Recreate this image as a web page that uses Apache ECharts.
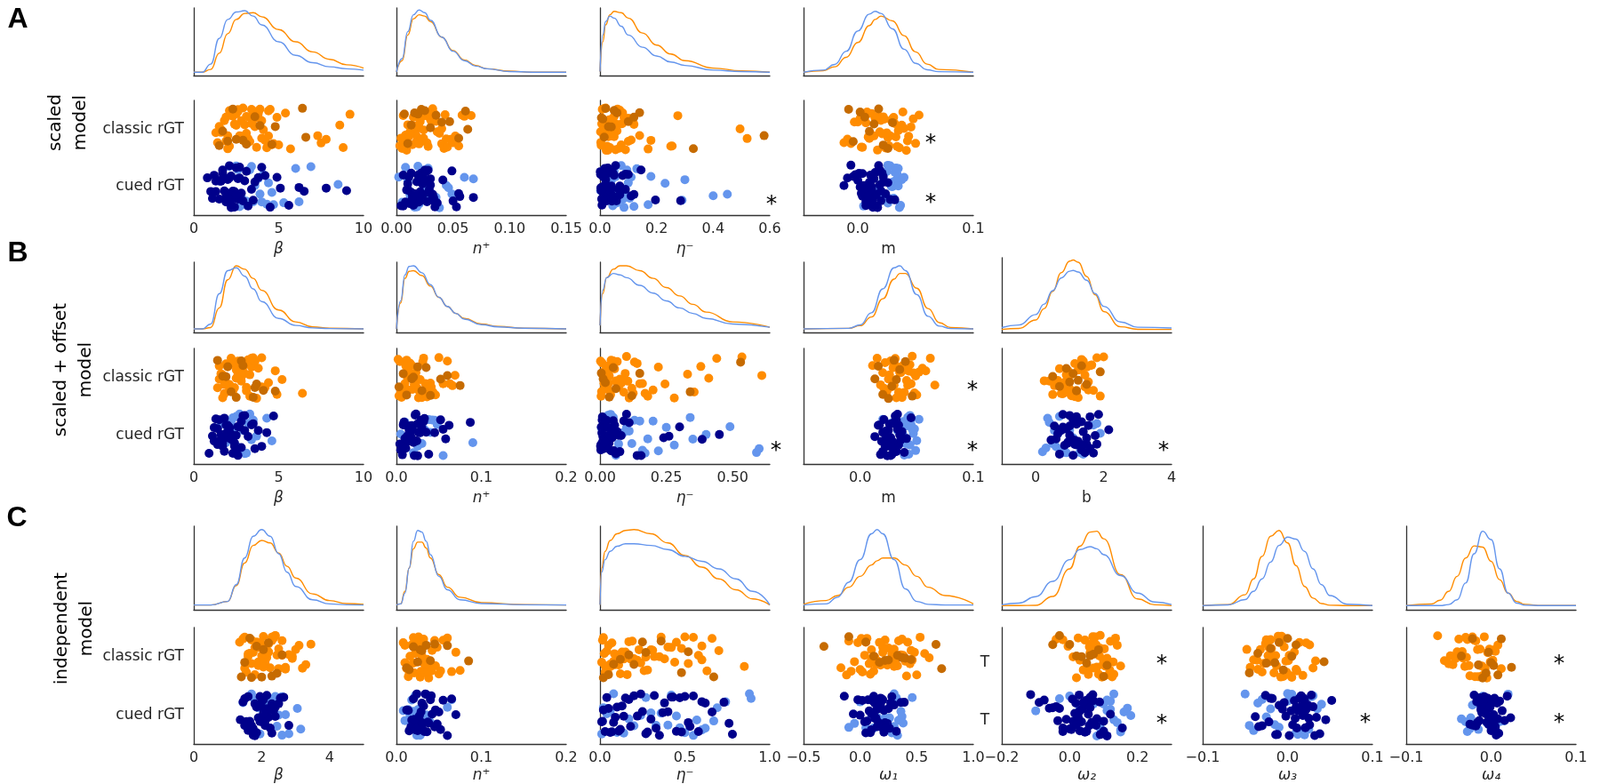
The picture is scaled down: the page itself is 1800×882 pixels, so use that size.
<!DOCTYPE html>
<html><head><meta charset="utf-8">
<script src="https://cdn.jsdelivr.net/npm/echarts@6/dist/echarts.min.js"></script>
<style>html,body{margin:0;padding:0;background:#fff}#c{width:1800px;height:882px}</style>
</head><body><div id="c"></div><script>
const CATS = ['classic rGT', 'cued rGT'];

// ---------- Row A : scaled model ----------
const aBeta_ticks = [0, 5, 10];
const aBeta_dx = [0,0.5,1,1.5,2,2.5,3,3.5,4,5,6,7,8,9,10];
const aBeta_dU = [0.05,0.05,0.17,0.55,0.83,0.94,0.96,0.88,0.75,0.5,0.3,0.19,0.13,0.1,0.08];
const aBeta_dC = [0.05,0.05,0.09,0.33,0.62,0.83,0.92,0.93,0.87,0.68,0.5,0.35,0.24,0.16,0.11];
const aBeta_cL = [1.3,1.5,1.6,1.8,1.9,2.0,2.1,2.2,2.3,2.4,2.5,2.6,2.7,2.8,2.9,3.0,3.1,3.2,3.3,3.4,3.5,3.6,3.8,3.9,4.0,4.1,4.2,4.4,4.5,4.7,4.9,5.0,5.4,5.7,7.3,7.5,7.8,8.6,8.8,9.2,1.4,2.2,2.6,3.3,3.7,4.3,1.6,1.9,2.1,2.4,2.8,3.0,3.4,3.6,4.0,4.4,4.6,2.0,2.5,3.1,3.8];
const aBeta_cD = [1.5,1.7,2.0,2.3,2.5,2.9,3.1,3.6,3.9,4.6,4.8,6.4,6.6];
const aBeta_uN = [0.8,1.0,1.1,1.2,1.3,1.4,1.5,1.6,1.7,1.8,1.9,2.0,2.1,2.2,2.3,2.4,2.5,2.6,2.7,2.8,2.9,3.0,3.2,3.4,3.5,3.8,4.0,4.2,4.5,4.9,5.1,5.6,6.2,6.5,7.8,9.0,1.6,2.0,2.2,2.4,2.6,1.3,1.5,1.7,1.9,2.1,2.3,2.5,2.7,1.8,2.0,2.2,2.4,3.1,3.6];
const aBeta_uL = [1.5,2.1,2.5,2.8,3.0,3.1,3.3,3.5,3.6,3.8,4.1,4.3,4.4,4.7,5.3,6.0,6.2,6.9,8.5,2.3,2.7,3.2,3.9,2.0,2.6,3.4,4.0,4.6];

const aN_ticks = [0, 0.05, 0.10, 0.15];
const aN_dx = [0,0.005,0.01,0.015,0.02,0.025,0.03,0.04,0.05,0.06,0.07,0.08,0.1,0.12,0.15];
const aN_dU = [0.05,0.25,0.65,0.9,0.97,0.93,0.82,0.57,0.36,0.22,0.14,0.1,0.06,0.05,0.05];
const aN_dC = [0.05,0.22,0.6,0.84,0.9,0.88,0.8,0.57,0.37,0.23,0.15,0.1,0.065,0.05,0.05];
const aN_cL = [0.003,0.005,0.006,0.008,0.01,0.011,0.012,0.014,0.015,0.016,0.018,0.019,0.02,0.021,0.022,0.024,0.025,0.026,0.028,0.029,0.03,0.032,0.034,0.036,0.038,0.04,0.042,0.043,0.045,0.048,0.05,0.052,0.055,0.058,0.06,0.066,0.009,0.017,0.027,0.004,0.007,0.01,0.013,0.016,0.02,0.023,0.027,0.031,0.035,0.04,0.044,0.012,0.024];
const aN_cD = [0.007,0.01,0.013,0.016,0.019,0.022,0.025,0.03,0.035,0.04,0.047,0.055,0.061,0.063];
const aN_uN = [0.004,0.006,0.008,0.009,0.01,0.011,0.012,0.013,0.014,0.015,0.016,0.017,0.018,0.019,0.02,0.021,0.022,0.023,0.024,0.025,0.026,0.027,0.028,0.029,0.03,0.031,0.032,0.034,0.036,0.041,0.049,0.05,0.053,0.055,0.056,0.068,0.013,0.02,0.024,0.006,0.01,0.014,0.018,0.022,0.026,0.03,0.016,0.019,0.023,0.028,0.033];
const aN_uL = [0.002,0.005,0.008,0.012,0.016,0.018,0.02,0.022,0.025,0.027,0.03,0.035,0.038,0.044,0.046,0.049,0.06,0.068,0.015,0.028,0.01,0.019,0.024,0.033];

const aEta_ticks = [0, 0.2, 0.4, 0.6];
const aEta_dx = [0,0.01,0.02,0.035,0.05,0.075,0.1,0.15,0.2,0.25,0.3,0.4,0.5,0.6];
const aEta_dU = [0.06,0.6,0.8,0.88,0.85,0.73,0.6,0.42,0.29,0.2,0.15,0.08,0.06,0.05];
const aEta_dC = [0.06,0.5,0.75,0.9,0.95,0.93,0.85,0.63,0.45,0.32,0.22,0.11,0.07,0.05];
const aEta_cL = [0.002,0.004,0.006,0.008,0.01,0.012,0.015,0.018,0.02,0.022,0.025,0.028,0.03,0.033,0.035,0.04,0.045,0.05,0.055,0.06,0.065,0.07,0.075,0.08,0.085,0.09,0.1,0.11,0.12,0.14,0.17,0.18,0.25,0.255,0.275,0.495,0.52,0.016,0.038,0.062,0.003,0.007,0.012,0.02,0.027,0.036,0.045,0.055,0.068,0.078,0.09,0.1,0.015,0.05];
const aEta_cD = [0.005,0.01,0.015,0.02,0.03,0.04,0.05,0.06,0.1,0.12,0.14,0.33,0.58];
const aEta_uN = [0.001,0.003,0.005,0.007,0.009,0.011,0.013,0.015,0.017,0.02,0.022,0.025,0.028,0.03,0.033,0.036,0.04,0.045,0.05,0.055,0.06,0.065,0.07,0.08,0.09,0.1,0.11,0.12,0.145,0.196,0.285,0.008,0.018,0.026,0.042,0.002,0.006,0.01,0.014,0.019,0.024,0.03,0.038,0.047,0.058,0.07,0.09,0.004,0.012];
const aEta_uL = [0.002,0.01,0.02,0.03,0.04,0.05,0.06,0.07,0.075,0.08,0.085,0.09,0.1,0.11,0.12,0.13,0.17,0.18,0.23,0.29,0.3,0.4,0.45,0.035,0.065,0.015,0.045,0.055,0.095,0.105];

const aM_ticks = [0, 0.1];
const aM_dx = [-0.047,-0.03,-0.02,-0.01,0,0.01,0.015,0.02,0.03,0.04,0.05,0.06,0.07,0.1];
const aM_dU = [0.05,0.08,0.165,0.36,0.66,0.91,0.95,0.92,0.69,0.39,0.18,0.086,0.057,0.05];
const aM_dC = [0.05,0.073,0.13,0.27,0.49,0.74,0.83,0.88,0.81,0.59,0.35,0.17,0.09,0.05];
const aM_cL = [-0.012,-0.009,-0.006,-0.003,0,0.002,0.004,0.006,0.008,0.01,0.012,0.014,0.016,0.018,0.02,0.022,0.024,0.026,0.028,0.03,0.032,0.034,0.036,0.038,0.04,0.042,0.044,0.046,0.048,0.05,0.053,0.009,0.017,0.025,0.033,0.003,0.011,0.015,0.019,0.023,0.027,0.031,0.035,0.039,0.043,0.021,0.029,0.037,0.007];
const aM_cD = [-0.008,-0.004,0.002,0.006,0.01,0.014,0.018,0.022,0.026,0.03];
const aM_uN = [-0.012,-0.009,-0.006,-0.004,-0.002,0,0.001,0.002,0.003,0.004,0.005,0.006,0.007,0.008,0.009,0.01,0.011,0.012,0.013,0.014,0.015,0.016,0.017,0.018,0.019,0.02,0.021,0.022,0.024,0.026,0.028,0.032,0.006,0.012,0.001,0.004,0.007,0.01,0.013,0.016,0.019,0.022,0.009,0.014,0.017,0.02];
const aM_uL = [0.005,0.015,0.02,0.022,0.024,0.025,0.026,0.027,0.028,0.029,0.03,0.031,0.032,0.033,0.034,0.035,0.036,0.037,0.038,0.04,0.018,0.03,0.023,0.026,0.029,0.032,0.035];

// ---------- Row B : scaled + offset model ----------
const bBeta_ticks = [0, 5, 10];
const bBeta_dx = [0,0.5,1,1.5,2,2.5,3,3.5,4,5,6,7,8,10];
const bBeta_dU = [0.05,0.05,0.12,0.55,0.88,0.92,0.8,0.62,0.44,0.2,0.1,0.065,0.055,0.05];
const bBeta_dC = [0.05,0.05,0.07,0.35,0.75,0.95,0.9,0.77,0.6,0.32,0.15,0.08,0.06,0.05];
const bBeta_cL = [1.4,1.5,1.6,1.7,1.8,1.9,2.0,2.1,2.2,2.3,2.4,2.5,2.6,2.7,2.8,2.9,3.0,3.1,3.2,3.3,3.4,3.5,3.6,3.7,3.8,4.0,4.2,4.4,4.8,4.9,5.2,6.4,1.8,2.2,2.6,3.0,1.5,1.7,2.0,2.3,2.5,2.8,3.1,3.3,3.6,2.1,2.4,2.7,3.4,4.0];
const bBeta_cD = [1.4,1.7,1.9,2.0,2.2,2.5,2.8,2.9,3.5,3.6,3.7,4.1,4.8];
const bBeta_uN = [0.9,1.1,1.2,1.3,1.4,1.5,1.6,1.7,1.8,1.9,2.0,2.1,2.2,2.3,2.4,2.5,2.6,2.7,2.8,2.9,3.0,3.2,3.4,3.5,3.6,3.8,4.0,4.3,4.7,1.5,2.0,2.3,1.2,1.4,1.6,1.8,2.0,2.2,2.4,2.6,2.8,3.0,1.7,1.9,2.1,2.5];
const bBeta_uL = [1.6,1.9,2.2,2.4,2.5,2.6,2.7,2.8,2.9,3.0,3.1,3.3,3.4,3.5,3.7,4.3,4.6,2.0,2.3,2.6,3.2];

const bN_ticks = [0, 0.1, 0.2];
const bN_dx = [0,0.005,0.01,0.015,0.02,0.03,0.04,0.05,0.06,0.07,0.08,0.1,0.12,0.15,0.2];
const bN_dU = [0.05,0.45,0.82,0.94,0.95,0.85,0.68,0.5,0.37,0.27,0.19,0.11,0.08,0.06,0.05];
const bN_dC = [0.05,0.42,0.77,0.87,0.88,0.81,0.66,0.5,0.37,0.27,0.2,0.12,0.085,0.06,0.05];
const bN_cL = [0.002,0.004,0.006,0.008,0.01,0.012,0.014,0.016,0.018,0.02,0.022,0.024,0.026,0.028,0.03,0.032,0.034,0.036,0.038,0.04,0.043,0.046,0.05,0.055,0.06,0.063,0.066,0.069,0.005,0.015,0.025,0.003,0.007,0.011,0.015,0.019,0.023,0.027,0.031,0.035,0.009,0.013,0.021,0.029,0.041];
const bN_cD = [0.003,0.008,0.012,0.018,0.02,0.025,0.03,0.035,0.04,0.052,0.06,0.075];
const bN_uN = [0.004,0.006,0.008,0.01,0.012,0.014,0.016,0.018,0.02,0.022,0.024,0.026,0.028,0.03,0.032,0.035,0.038,0.045,0.052,0.055,0.058,0.062,0.087,0.01,0.015,0.02,0.025,0.005,0.009,0.013,0.017,0.021,0.025,0.029,0.007,0.011,0.015,0.019,0.023,0.033];
const bN_uL = [0.005,0.01,0.02,0.03,0.034,0.038,0.042,0.045,0.048,0.055,0.09,0.025,0.032,0.015,0.028,0.04];

const bEta_ticks = [0, 0.25, 0.5];
const bEta_dx = [0,0.01,0.025,0.05,0.075,0.1,0.15,0.2,0.25,0.3,0.35,0.4,0.5,0.64];
const bEta_dU = [0.1,0.6,0.78,0.84,0.82,0.78,0.67,0.56,0.45,0.35,0.27,0.2,0.12,0.075];
const bEta_dC = [0.1,0.55,0.78,0.9,0.95,0.95,0.88,0.77,0.64,0.52,0.4,0.29,0.15,0.075];
const bEta_cL = [0.002,0.006,0.01,0.015,0.02,0.025,0.03,0.035,0.04,0.045,0.05,0.06,0.07,0.08,0.09,0.1,0.11,0.12,0.13,0.14,0.15,0.16,0.17,0.18,0.2,0.22,0.245,0.28,0.33,0.355,0.38,0.41,0.44,0.535,0.61,0.055,0.095,0.004,0.008,0.013,0.018,0.023,0.028,0.033,0.042,0.05,0.065,0.075,0.085,0.105,0.125];
const bEta_cD = [0.005,0.012,0.02,0.035,0.05,0.06,0.12,0.15,0.34,0.53];
const bEta_uN = [0.002,0.005,0.008,0.011,0.014,0.017,0.02,0.023,0.026,0.03,0.034,0.038,0.042,0.046,0.05,0.055,0.06,0.065,0.07,0.08,0.09,0.1,0.11,0.14,0.155,0.24,0.26,0.3,0.385,0.45,0.01,0.03,0.004,0.007,0.012,0.016,0.022,0.028,0.036,0.044,0.052,0.062,0.075,0.003,0.009,0.019];
const bEta_uL = [0.005,0.02,0.04,0.06,0.08,0.1,0.12,0.13,0.15,0.17,0.18,0.2,0.22,0.28,0.34,0.35,0.4,0.49,0.59,0.6,0.09,0.25,0.03,0.05,0.07,0.11,0.16];

const bM_ticks = [0, 0.1];
const bM_dx = [-0.05,-0.01,0,0.01,0.02,0.03,0.035,0.04,0.05,0.06,0.07,0.08,0.1];
const bM_dU = [0.05,0.059,0.108,0.28,0.62,0.92,0.95,0.88,0.54,0.23,0.09,0.056,0.05];
const bM_dC = [0.05,0.058,0.096,0.22,0.48,0.76,0.84,0.84,0.63,0.34,0.14,0.07,0.05];
const bM_cL = [0.011,0.015,0.018,0.02,0.022,0.024,0.026,0.028,0.03,0.032,0.034,0.036,0.038,0.04,0.042,0.044,0.046,0.048,0.05,0.052,0.055,0.058,0.062,0.066,0.027,0.035,0.043,0.021,0.025,0.029,0.031,0.033,0.037,0.039,0.041,0.045,0.049,0.023,0.035,0.047,0.03];
const bM_cD = [0.013,0.016,0.02,0.025,0.028,0.03,0.032,0.035,0.04,0.046];
const bM_uN = [0.013,0.016,0.018,0.019,0.02,0.021,0.022,0.023,0.024,0.025,0.026,0.027,0.028,0.029,0.03,0.031,0.032,0.033,0.034,0.035,0.037,0.039,0.041,0.045,0.022,0.027,0.032,0.017,0.02,0.023,0.026,0.029,0.031,0.034,0.036,0.024,0.028,0.03,0.033];
const bM_uL = [0.02,0.028,0.033,0.036,0.038,0.04,0.041,0.042,0.043,0.044,0.045,0.046,0.047,0.048,0.05,0.052,0.039,0.044,0.038,0.042,0.045,0.049];

const bB_ticks = [0, 2, 4];
const bB_dx = [-1,-0.5,0,0.25,0.5,0.75,1,1.1,1.25,1.5,1.75,2,2.5,3,4];
const bB_dU = [0.065,0.1,0.24,0.38,0.56,0.73,0.82,0.83,0.81,0.7,0.52,0.35,0.14,0.07,0.06];
const bB_dC = [0.04,0.054,0.166,0.32,0.55,0.8,0.955,0.97,0.94,0.75,0.505,0.28,0.076,0.042,0.04];
const bB_cL = [0.25,0.4,0.5,0.6,0.7,0.75,0.8,0.85,0.9,0.95,1.0,1.05,1.1,1.15,1.2,1.25,1.3,1.35,1.4,1.45,1.5,1.55,1.6,1.7,1.8,1.9,2.0,0.9,1.1,1.3,0.55,0.65,0.85,0.95,1.05,1.15,1.25,1.35,1.45,1.55,1.65,1.0,1.2,1.4];
const bB_cD = [0.5,0.7,0.9,1.0,1.1,1.2,1.25,1.35,1.5,1.9];
const bB_uN = [0.45,0.55,0.65,0.7,0.75,0.8,0.85,0.9,0.95,1.0,1.05,1.1,1.15,1.2,1.25,1.3,1.35,1.4,1.45,1.5,1.55,1.6,1.7,1.8,1.85,2.15,1.0,1.2,0.6,0.8,0.9,1.0,1.1,1.2,1.3,1.4,1.5,1.6,0.95,1.15,1.35,1.75];
const bB_uL = [0.2,0.3,0.4,0.5,0.6,0.7,0.8,0.9,1.0,1.1,1.3,1.5,1.6,1.7,1.8,1.9,0.65,1.2,0.35,0.55,0.75,1.4];

// ---------- Row C : independent model ----------
const cBeta_ticks = [0, 2, 4];
const cBeta_dx = [0,0.5,1,1.25,1.5,1.75,2,2.25,2.5,2.75,3,3.5,4,4.5,5];
const cBeta_dU = [0.057,0.057,0.1,0.3,0.62,0.88,0.96,0.88,0.67,0.45,0.28,0.12,0.07,0.06,0.057];
const cBeta_dC = [0.057,0.057,0.1,0.29,0.56,0.77,0.83,0.8,0.68,0.52,0.38,0.19,0.11,0.075,0.064];
const cBeta_cL = [1.35,1.45,1.5,1.55,1.6,1.65,1.7,1.75,1.8,1.85,1.9,1.95,2.0,2.05,2.1,2.15,2.2,2.25,2.3,2.35,2.4,2.45,2.5,2.6,2.7,2.8,2.9,3.0,3.1,3.2,3.3,3.45,1.9,2.2,2.6,1.5,1.6,1.7,1.8,1.9,2.0,2.1,2.2,2.3,2.4,2.5,2.7,2.9,2.05];
const cBeta_cD = [1.4,1.5,1.65,1.7,1.85,2.0,2.05,2.2,2.3,2.45,2.6];
const cBeta_uN = [1.37,1.45,1.5,1.55,1.6,1.65,1.7,1.75,1.8,1.85,1.9,1.95,2.0,2.05,2.1,2.15,2.2,2.25,2.3,2.35,2.4,2.5,2.55,2.65,2.8,1.65,1.8,1.95,2.1,1.5,1.6,1.7,1.8,1.9,2.0,2.1,2.2,2.3,2.4,1.75,1.85,2.05,2.15];
const cBeta_uL = [1.45,1.6,1.8,1.9,2.0,2.1,2.2,2.3,2.4,2.5,2.6,2.7,2.8,3.05,3.15,2.15,1.7,1.95,2.25,2.45,2.6];

const cN_ticks = [0, 0.1, 0.2];
const cN_dx = [0,0.005,0.01,0.015,0.02,0.025,0.03,0.035,0.04,0.05,0.06,0.075,0.1,0.15,0.2];
const cN_dU = [0.057,0.07,0.2,0.5,0.82,0.95,0.93,0.82,0.66,0.4,0.24,0.12,0.075,0.06,0.057];
const cN_dC = [0.057,0.07,0.22,0.5,0.73,0.81,0.81,0.74,0.62,0.42,0.27,0.15,0.085,0.062,0.057];
const cN_cL = [0.008,0.01,0.012,0.014,0.016,0.018,0.02,0.022,0.024,0.026,0.028,0.03,0.032,0.034,0.036,0.038,0.04,0.042,0.045,0.048,0.05,0.055,0.06,0.065,0.07,0.075,0.02,0.03,0.04,0.01,0.013,0.017,0.021,0.025,0.029,0.033,0.037,0.041,0.046,0.015,0.027,0.035,0.052];
const cN_cD = [0.012,0.015,0.02,0.025,0.028,0.03,0.035,0.04,0.045,0.06,0.085];
const cN_uN = [0.012,0.015,0.018,0.02,0.022,0.024,0.026,0.028,0.03,0.032,0.034,0.036,0.038,0.04,0.042,0.045,0.048,0.05,0.055,0.06,0.065,0.07,0.025,0.03,0.035,0.014,0.017,0.019,0.021,0.023,0.027,0.029,0.031,0.033,0.037,0.041,0.046,0.052];
const cN_uL = [0.008,0.01,0.014,0.018,0.022,0.026,0.03,0.035,0.045,0.06,0.065,0.02,0.016,0.024,0.028,0.04];

const cEta_ticks = [0, 0.5, 1.0];
const cEta_dx = [0,0.01,0.03,0.06,0.1,0.15,0.2,0.3,0.4,0.5,0.6,0.7,0.8,0.9,1.0];
const cEta_dU = [0.06,0.45,0.6,0.7,0.76,0.79,0.79,0.77,0.72,0.64,0.58,0.49,0.37,0.22,0.06];
const cEta_dC = [0.06,0.5,0.7,0.83,0.91,0.95,0.96,0.91,0.8,0.65,0.51,0.37,0.24,0.13,0.057];
const cEta_cL = [0.01,0.02,0.03,0.04,0.05,0.06,0.07,0.08,0.09,0.1,0.12,0.14,0.16,0.18,0.2,0.22,0.24,0.26,0.28,0.3,0.32,0.35,0.38,0.4,0.42,0.45,0.48,0.5,0.52,0.55,0.58,0.6,0.63,0.66,0.7,0.85,0.03,0.11,0.17,0.015,0.025,0.045,0.065,0.085,0.13,0.15,0.19,0.23,0.27,0.31,0.36,0.44,0.6];
const cEta_cD = [0.02,0.05,0.08,0.12,0.17,0.2,0.25,0.27,0.36,0.48,0.52,0.67];
const cEta_uN = [0.01,0.02,0.03,0.05,0.07,0.09,0.11,0.13,0.15,0.18,0.2,0.22,0.25,0.28,0.3,0.33,0.35,0.38,0.4,0.43,0.45,0.48,0.5,0.53,0.55,0.6,0.62,0.66,0.73,0.76,0.78,0.08,0.14,0.015,0.04,0.06,0.1,0.12,0.17,0.24,0.27,0.32,0.37,0.42,0.47,0.52,0.58];
const cEta_uL = [0.01,0.04,0.06,0.1,0.14,0.17,0.2,0.24,0.27,0.3,0.36,0.4,0.42,0.47,0.5,0.55,0.6,0.62,0.67,0.69,0.74,0.88,0.89,0.02,0.08,0.33,0.45,0.57];

const cW1_ticks = [-0.5, 0, 0.5, 1.0];
const cW1_dx = [-0.5,-0.3,-0.2,-0.1,0,0.1,0.15,0.2,0.3,0.4,0.5,0.6,0.75,1.0];
const cW1_dU = [0.057,0.07,0.15,0.33,0.6,0.91,0.96,0.91,0.6,0.25,0.1,0.065,0.057,0.057];
const cW1_dC = [0.066,0.11,0.17,0.27,0.4,0.536,0.586,0.62,0.62,0.536,0.4,0.27,0.17,0.07];
const cW1_cL = [-0.17,-0.12,-0.08,-0.05,-0.02,0,0.02,0.04,0.06,0.08,0.1,0.12,0.14,0.16,0.18,0.2,0.22,0.24,0.26,0.28,0.3,0.32,0.34,0.36,0.38,0.4,0.42,0.44,0.46,0.5,0.53,0.57,0.61,0.1,0.2,0.3,-0.1,0.01,0.05,0.09,0.13,0.17,0.21,0.25,0.29,0.33,0.37,0.41,0.45,0.48];
const cW1_cD = [-0.32,-0.1,0.05,0.12,0.17,0.22,0.25,0.33,0.37,0.4,0.45,0.67,0.72];
const cW1_uN = [-0.14,-0.06,-0.02,0,0.02,0.04,0.06,0.08,0.1,0.12,0.13,0.14,0.15,0.16,0.17,0.18,0.19,0.2,0.21,0.22,0.24,0.26,0.28,0.3,0.32,0.36,0.39,0.1,0.16,0.2,0.05,0.07,0.09,0.11,0.13,0.15,0.17,0.19,0.21,0.23,0.25,0.12,0.18,0.27];
const cW1_uL = [-0.1,-0.05,0,0.05,0.1,0.15,0.2,0.25,0.28,0.3,0.32,0.34,0.36,0.37,0.38,0.46,0.22,0.3,0.12,0.18,0.26,0.33];

const cW2_ticks = [-0.2, 0, 0.2];
const cW2_dx = [-0.2,-0.15,-0.1,-0.05,0,0.03,0.06,0.08,0.1,0.15,0.2,0.25,0.3];
const cW2_dU = [0.06,0.08,0.157,0.34,0.6,0.72,0.755,0.73,0.66,0.41,0.2,0.093,0.062];
const cW2_dC = [0.05,0.05,0.053,0.16,0.49,0.76,0.93,0.94,0.85,0.42,0.13,0.06,0.05];
const cW2_cL = [-0.04,-0.02,-0.005,0.01,0.02,0.03,0.04,0.05,0.055,0.06,0.065,0.07,0.075,0.08,0.085,0.09,0.095,0.1,0.105,0.11,0.115,0.12,0.125,0.13,0.14,0.15,0.07,0.09,0.045,0.058,0.068,0.078,0.088,0.098,0.108,0.118,0.128,0.062,0.082,0.102,0.135,0.025];
const cW2_cD = [-0.05,-0.03,0.0,0.02,0.035,0.05,0.06,0.07,0.085,0.1,0.11];
const cW2_uN = [-0.115,-0.09,-0.075,-0.06,-0.05,-0.04,-0.03,-0.02,-0.01,0,0.005,0.01,0.015,0.02,0.025,0.03,0.035,0.04,0.045,0.05,0.055,0.06,0.065,0.07,0.08,0.09,0.1,0.11,0.12,0.155,0.03,0.05,0.008,0.018,0.028,0.038,0.048,0.058,0.068,0.078,0.088,0.1,0.04,0.06,-0.035,-0.02];
const cW2_uL = [-0.1,-0.03,0.0,0.03,0.05,0.07,0.09,0.1,0.11,0.12,0.13,0.14,0.15,0.16,0.17,0.18,0.08,0.12,0.09,0.11,0.13,0.15,0.06];

const cW3_ticks = [-0.1, 0, 0.1];
const cW3_dx = [-0.1,-0.07,-0.05,-0.04,-0.03,-0.02,-0.01,0,0.01,0.02,0.03,0.04,0.05,0.07,0.1];
const cW3_dU = [0.05,0.058,0.123,0.22,0.37,0.57,0.77,0.87,0.845,0.7,0.49,0.3,0.17,0.067,0.05];
const cW3_dC = [0.05,0.061,0.18,0.37,0.64,0.88,0.95,0.8,0.53,0.28,0.14,0.075,0.055,0.05,0.05];
const cW3_cL = [-0.048,-0.044,-0.04,-0.036,-0.032,-0.028,-0.025,-0.022,-0.019,-0.016,-0.013,-0.01,-0.007,-0.004,-0.001,0.002,0.005,0.008,0.011,0.014,0.018,0.022,0.026,0.03,0.033,-0.02,-0.005,-0.035,-0.03,-0.026,-0.023,-0.02,-0.017,-0.014,-0.011,-0.008,-0.005,-0.002,0.001,0.004,0.01];
const cW3_cD = [-0.045,-0.035,-0.025,-0.02,-0.015,-0.01,-0.005,0,0.005,0.01,0.043];
const cW3_uN = [-0.038,-0.034,-0.03,-0.026,-0.022,-0.018,-0.014,-0.01,-0.006,-0.002,0.002,0.006,0.008,0.01,0.012,0.014,0.016,0.018,0.02,0.022,0.024,0.026,0.028,0.03,0.034,0.038,0.045,0.052,0.015,0.02,-0.02,-0.012,-0.004,0.004,0.009,0.011,0.013,0.015,0.017,0.019,0.021,0.023,0.025,0.032];
const cW3_uL = [-0.05,-0.045,-0.04,-0.03,-0.02,-0.01,0,0.005,0.01,0.015,0.02,0.025,0.03,0.035,0.04,-0.025,-0.035,-0.015,0.0,0.012,0.028];

const cW4_ticks = [-0.1, 0, 0.1];
const cW4_dx = [-0.1,-0.07,-0.06,-0.05,-0.04,-0.03,-0.02,-0.01,0,0.01,0.02,0.03,0.04,0.06,0.1];
const cW4_dU = [0.05,0.05,0.05,0.062,0.12,0.32,0.67,0.94,0.84,0.49,0.2,0.08,0.055,0.05,0.05];
const cW4_dC = [0.05,0.069,0.115,0.22,0.4,0.62,0.765,0.75,0.58,0.36,0.2,0.1,0.065,0.05,0.05];
const cW4_cL = [-0.063,-0.055,-0.05,-0.045,-0.04,-0.037,-0.034,-0.031,-0.028,-0.025,-0.022,-0.019,-0.016,-0.013,-0.01,-0.007,-0.004,-0.001,0.002,0.005,0.008,0.012,-0.03,-0.02,-0.015,-0.048,-0.042,-0.038,-0.033,-0.029,-0.026,-0.023,-0.018,-0.014,-0.011,-0.008,-0.005,-0.002,0.004];
const cW4_cD = [-0.035,-0.022,-0.015,-0.01,-0.006,-0.003,0,0.003,0.008,0.012,0.024];
const cW4_uN = [-0.025,-0.022,-0.02,-0.018,-0.016,-0.014,-0.012,-0.01,-0.008,-0.006,-0.004,-0.002,0,0.002,0.004,0.006,0.008,0.01,0.013,0.016,0.019,0.023,-0.012,-0.005,0.003,-0.017,-0.013,-0.009,-0.007,-0.003,-0.001,0.001,0.003,0.005,0.007,0.009,-0.011,-0.006,0.0];
const cW4_uL = [-0.035,-0.03,-0.028,-0.025,-0.02,-0.015,-0.01,-0.005,0.0,0.005,0.01,0.015,0.02,-0.022,-0.024,-0.018,-0.012,-0.008];

// ---------- layout ----------
const COLORS = { cL: '#FF8C00', cD: '#C66B00', uN: '#00008B', uL: '#6495ED', dC: '#FF8C00', dU: '#6495ED' };
const TXT = '#262626', AX = '#333333', FONT = 'DejaVu Sans';
const COL_LEFT = [218, 446, 675, 904, 1127, 1353, 1582];
const COL_W = 191;
const ROWS = [
  { dTop: 9, dH: 76, sTop: 113, sH: 129, gap: 30 },
  { dTop: 295, dH: 79, sTop: 392, sH: 130, gap: 30 },
  { dTop: 592, dH: 94, sTop: 706, sH: 131, gap: 27 }
];

function P(row, col, name, italic, min, max, ticks, dec, pre, extra) {
  return Object.assign({ row, col, name, italic, min, max, ticks, dec, pre }, extra || {});
}
const PANELS = [
  P(0,0,'β',true,0,10,aBeta_ticks,0,{dx:aBeta_dx,dC:aBeta_dC,dU:aBeta_dU,cL:aBeta_cL,cD:aBeta_cD,uN:aBeta_uN,uL:aBeta_uL}),
  P(0,1,'n⁺',true,0,0.15,aN_ticks,2,{dx:aN_dx,dC:aN_dC,dU:aN_dU,cL:aN_cL,cD:aN_cD,uN:aN_uN,uL:aN_uL}),
  P(0,2,'η⁻',true,0,0.6,aEta_ticks,1,{dx:aEta_dx,dC:aEta_dC,dU:aEta_dU,cL:aEta_cL,cD:aEta_cD,uN:aEta_uN,uL:aEta_uL}),
  P(0,3,'m',false,-0.047,0.1,aM_ticks,1,{dx:aM_dx,dC:aM_dC,dU:aM_dU,cL:aM_cL,cD:aM_cD,uN:aM_uN,uL:aM_uL}),
  P(1,0,'β',true,0,10,bBeta_ticks,0,{dx:bBeta_dx,dC:bBeta_dC,dU:bBeta_dU,cL:bBeta_cL,cD:bBeta_cD,uN:bBeta_uN,uL:bBeta_uL}),
  P(1,1,'n⁺',true,0,0.2,bN_ticks,1,{dx:bN_dx,dC:bN_dC,dU:bN_dU,cL:bN_cL,cD:bN_cD,uN:bN_uN,uL:bN_uL}),
  P(1,2,'η⁻',true,0,0.64,bEta_ticks,2,{dx:bEta_dx,dC:bEta_dC,dU:bEta_dU,cL:bEta_cL,cD:bEta_cD,uN:bEta_uN,uL:bEta_uL}),
  P(1,3,'m',false,-0.05,0.1,bM_ticks,1,{dx:bM_dx,dC:bM_dC,dU:bM_dU,cL:bM_cL,cD:bM_cD,uN:bM_uN,uL:bM_uL}),
  P(1,4,'b',false,-1,4,bB_ticks,0,{dx:bB_dx,dC:bB_dC,dU:bB_dU,cL:bB_cL,cD:bB_cD,uN:bB_uN,uL:bB_uL},{dTop:290}),
  P(2,0,'β',true,0,5,cBeta_ticks,0,{dx:cBeta_dx,dC:cBeta_dC,dU:cBeta_dU,cL:cBeta_cL,cD:cBeta_cD,uN:cBeta_uN,uL:cBeta_uL}),
  P(2,1,'n⁺',true,0,0.2,cN_ticks,1,{dx:cN_dx,dC:cN_dC,dU:cN_dU,cL:cN_cL,cD:cN_cD,uN:cN_uN,uL:cN_uL}),
  P(2,2,'η⁻',true,0,1,cEta_ticks,1,{dx:cEta_dx,dC:cEta_dC,dU:cEta_dU,cL:cEta_cL,cD:cEta_cD,uN:cEta_uN,uL:cEta_uL}),
  P(2,3,'ω₁',true,-0.5,1,cW1_ticks,1,{dx:cW1_dx,dC:cW1_dC,dU:cW1_dU,cL:cW1_cL,cD:cW1_cD,uN:cW1_uN,uL:cW1_uL}),
  P(2,4,'ω₂',true,-0.2,0.3,cW2_ticks,1,{dx:cW2_dx,dC:cW2_dC,dU:cW2_dU,cL:cW2_cL,cD:cW2_cD,uN:cW2_uN,uL:cW2_uL}),
  P(2,5,'ω₃',true,-0.1,0.1,cW3_ticks,1,{dx:cW3_dx,dC:cW3_dC,dU:cW3_dU,cL:cW3_cL,cD:cW3_cD,uN:cW3_uN,uL:cW3_uL}),
  P(2,6,'ω₄',true,-0.1,0.1,cW4_ticks,1,{dx:cW4_dx,dC:cW4_dC,dU:cW4_dU,cL:cW4_cL,cD:cW4_cD,uN:cW4_uN,uL:cW4_uL})
];

function fmt(v, dec) {
  const s = Math.abs(v).toFixed(dec);
  return (v < -1e-12 ? '\u2212' : '') + s;
}

const grid = [], xAxis = [], yAxis = [], series = [];
PANELS.forEach(p => {
  const R = ROWS[p.row];
  const left = COL_LEFT[p.col];
  const dTop = p.dTop != null ? p.dTop : R.dTop;
  const dBottom = R.dTop + R.dH;
  const gD = grid.length;
  grid.push({ left: left, top: dTop, width: COL_W, height: dBottom - dTop });
  xAxis.push({ gridIndex: gD, type: 'value', min: p.min, max: p.max,
    axisLine: { show: true, onZero: false, lineStyle: { color: AX, width: 1.3 } },
    axisTick: { show: false }, axisLabel: { show: false }, splitLine: { show: false } });
  yAxis.push({ gridIndex: gD, type: 'value', min: 0, max: 1,
    axisLine: { show: true, onZero: false, lineStyle: { color: AX, width: 1.3 } },
    axisTick: { show: false }, axisLabel: { show: false }, splitLine: { show: false } });
  [['dC', COLORS.dC], ['dU', COLORS.dU]].forEach(([k, c]) => {
    series.push({ type: 'line', xAxisIndex: gD, yAxisIndex: gD, smooth: 0.5, smoothMonotone: 'x',
      showSymbol: false, symbol: 'none', silent: true, animation: false,
      lineStyle: { color: c, width: 1.4 }, data: p.pre.dx.map((x, i) => [x, p.pre[k][i]]) });
  });
  const gS = grid.length;
  grid.push({ left: left, top: R.sTop, width: COL_W, height: R.sH });
  xAxis.push({ gridIndex: gS, type: 'value', min: p.min, max: p.max,
    name: p.name, nameLocation: 'middle', nameGap: R.gap,
    nameTextStyle: { fontSize: 17, color: TXT, fontFamily: FONT, fontStyle: p.italic ? 'italic' : 'normal' },
    axisLine: { show: true, onZero: false, lineStyle: { color: AX, width: 1.3 } },
    axisTick: { show: false }, splitLine: { show: false },
    axisLabel: { customValues: p.ticks, showMinLabel: true, showMaxLabel: true, margin: 8,
      fontSize: 16, color: TXT, fontFamily: FONT, formatter: v => fmt(v, p.dec) } });
  yAxis.push({ gridIndex: gS, type: 'category', data: CATS, inverse: true,
    jitter: 48, jitterOverlap: true,
    axisLine: { show: true, onZero: false, lineStyle: { color: AX, width: 1.3 } },
    axisTick: { show: false }, splitLine: { show: false },
    axisLabel: { show: p.col === 0, margin: 11, fontSize: 17, color: TXT, fontFamily: FONT, padding: [16, 0, 0, 0] } });
  [['cL', 0], ['cD', 0], ['uL', 1], ['uN', 1]].forEach(([k, ci]) => {
    series.push({ type: 'scatter', xAxisIndex: gS, yAxisIndex: gS, symbol: 'circle', symbolSize: 10,
      silent: true, animation: false, itemStyle: { color: COLORS[k], opacity: 1 },
      data: p.pre[k].map(x => [x, CATS[ci]]) });
  });
});

// ---------- annotations ----------
const PANEL_LETTERS = [['A', 20, 22], ['B', 20, 285], ['C', 19, 583]];
const ROW_TITLES = [['scaled\nmodel', 76.5, 138], ['scaled + offset\nmodel', 82.5, 416], ['independent\nmodel', 83.5, 707]];
const STARS = [[868,225],[1047,156],[1047,223],[873,502],[1094,434],[1094,502],[1309,502],[1307,742],[1307,809],[1536,808],[1754,742],[1754,808]];
const T_MARKS = [[1108, 746], [1108, 811]];

const graphic = [];
PANEL_LETTERS.forEach(([t, x, y]) => graphic.push({ type: 'text', x, y, silent: true,
  style: { text: t, fontSize: 32, fontWeight: 'bold', fontFamily: 'Liberation Sans', fill: '#000', align: 'center', verticalAlign: 'middle' } }));
ROW_TITLES.forEach(([t, x, y]) => graphic.push({ type: 'text', x, y, rotation: Math.PI / 2, silent: true,
  style: { text: t, fontSize: 20, lineHeight: 28, fontFamily: FONT, fill: '#000', align: 'center', verticalAlign: 'middle' } }));
STARS.forEach(([x, y]) => graphic.push({ type: 'text', x, y: y + 5, silent: true,
  style: { text: '*', fontSize: 25, fontFamily: FONT, fill: '#000', align: 'center', verticalAlign: 'middle' } }));
T_MARKS.forEach(([x, y]) => graphic.push({ type: 'text', x, y, silent: true,
  style: { text: 'T', fontSize: 17, fontFamily: FONT, fill: TXT, align: 'center', verticalAlign: 'middle' } }));

const chart = echarts.init(document.getElementById('c'), null, { renderer: 'canvas' });
chart.setOption({ backgroundColor: '#fff', animation: false, textStyle: { fontFamily: FONT },
  grid, xAxis, yAxis, series, graphic });
</script></body></html>
